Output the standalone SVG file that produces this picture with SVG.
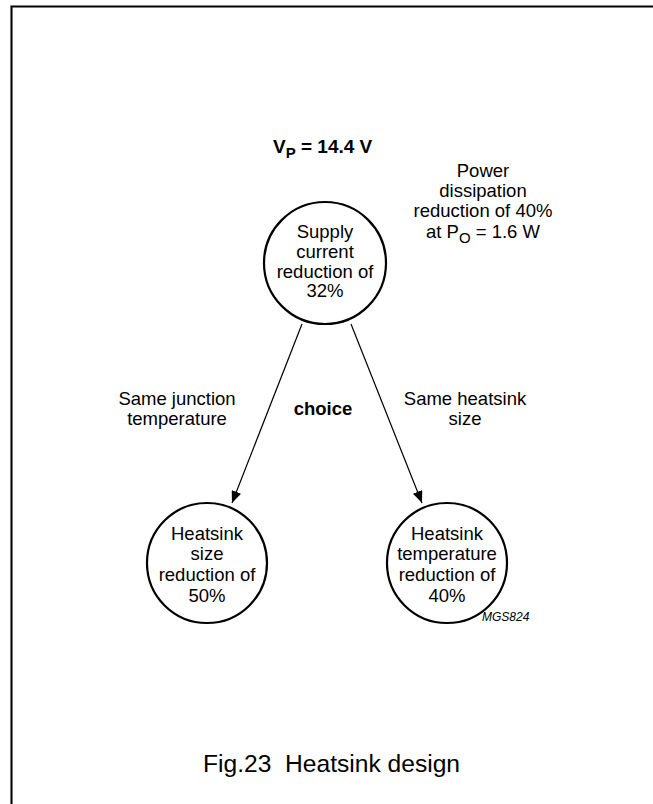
<svg xmlns="http://www.w3.org/2000/svg" width="653" height="804" viewBox="0 0 653 804">
<defs>
<style>
.t{font-family:"Liberation Sans",Arial,sans-serif;font-size:18.5px;fill:#000;text-anchor:middle}
.b{font-weight:bold}
.node{fill:#fff;stroke:#000;stroke-width:2.2}
.edge{stroke:#000;stroke-width:1.2;fill:none}
</style>
<marker id="ah" viewBox="0 0 12 10" refX="12" refY="5" markerWidth="12" markerHeight="10" markerUnits="userSpaceOnUse" orient="auto">
<path d="M0,0 L12,5 L0,10 Z" fill="#000"/>
</marker>
</defs>
<rect width="653" height="804" fill="#fff"/>
<g id="frame">
<path d="M11.5,804 V6.5 H653" fill="none" stroke="#aaa" stroke-width="3"/>
<path d="M11.5,804 V6.5 H653" fill="none" stroke="#000" stroke-width="1.6"/>
</g>
<g id="connectors">
<line class="edge" x1="302" y1="324" x2="232" y2="503" marker-end="url(#ah)"/>
<line class="edge" x1="351" y1="324" x2="422" y2="503" marker-end="url(#ah)"/>
</g>
<g id="vp">
<text class="t b" x="273" y="153" style="text-anchor:start;font-size:19px">V<tspan font-size="15" dy="5">P</tspan><tspan dy="-5"> = 14.4 V</tspan></text>
</g>
<g id="power">
<text class="t" x="483" y="177">Power</text>
<text class="t" x="483" y="197">dissipation</text>
<text class="t" x="483" y="217">reduction of 40%</text>
<text class="t" x="483" y="238">at P<tspan font-size="15" dy="5">O</tspan><tspan dy="-5"> = 1.6 W</tspan></text>
</g>
<g id="supply">
<circle class="node" cx="325" cy="263" r="61"/>
<text class="t" x="325" y="238">Supply</text>
<text class="t" x="325" y="258">current</text>
<text class="t" x="325" y="278">reduction of</text>
<text class="t" x="325" y="297">32%</text>
</g>
<g id="label-left">
<text class="t" x="177" y="405">Same junction</text>
<text class="t" x="177" y="425">temperature</text>
</g>
<g id="label-choice">
<text class="t b" x="323" y="415">choice</text>
</g>
<g id="label-right">
<text class="t" x="465" y="405">Same heatsink</text>
<text class="t" x="465" y="425">size</text>
</g>
<g id="size">
<circle class="node" cx="207" cy="563" r="60"/>
<text class="t" x="207" y="540">Heatsink</text>
<text class="t" x="207" y="560">size</text>
<text class="t" x="207" y="581">reduction of</text>
<text class="t" x="207" y="602">50%</text>
</g>
<g id="temp">
<circle class="node" cx="447" cy="563" r="60"/>
<text class="t" x="447" y="540">Heatsink</text>
<text class="t" x="447" y="560">temperature</text>
<text class="t" x="447" y="581">reduction of</text>
<text class="t" x="447" y="602">40%</text>
</g>
<g id="code">
<text class="t" x="482" y="621" style="text-anchor:start;font-size:12px;font-style:italic">MGS824</text>
</g>
<g id="caption">
<text class="t" x="203" y="772" style="text-anchor:start;font-size:24.6px">Fig.23&#160; Heatsink design</text>
</g>
</svg>
